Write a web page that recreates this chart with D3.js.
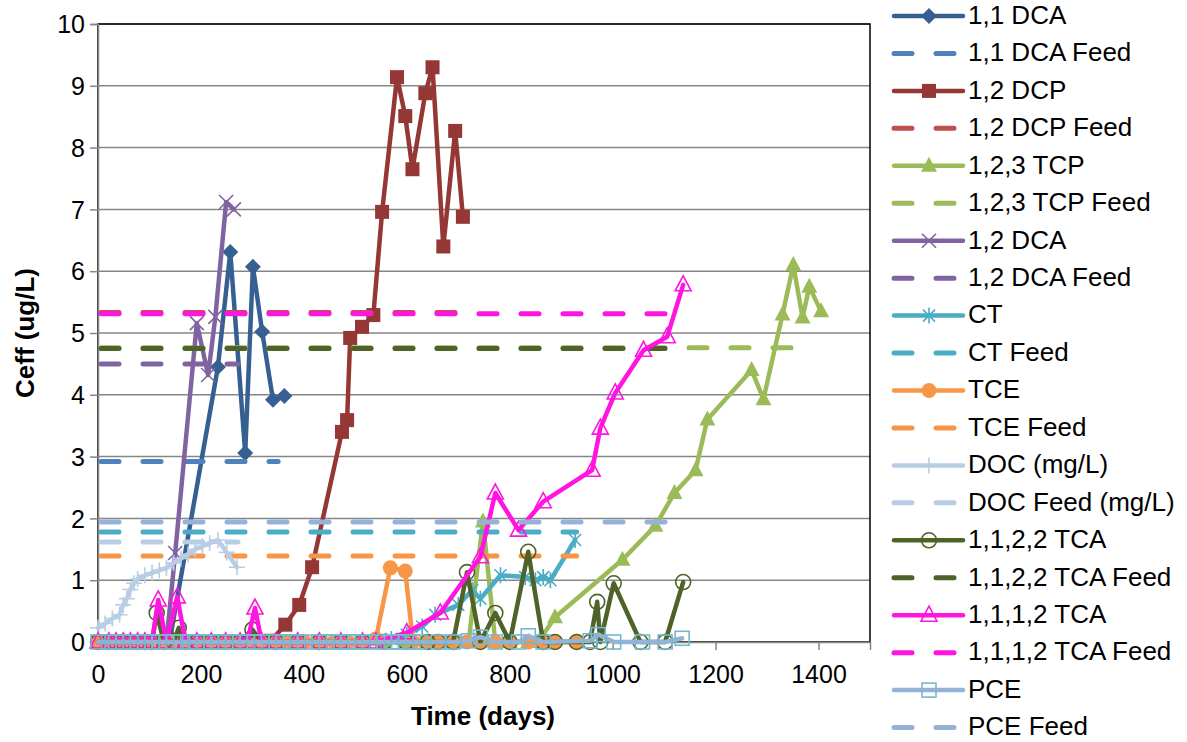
<!DOCTYPE html>
<html>
<head>
<meta charset="utf-8">
<script src="https://cdn.jsdelivr.net/npm/d3@7"></script>
<style>
  html, body { margin: 0; padding: 0; background: #fff; }
  svg { display: block; font-family: "Liberation Sans", Arial, sans-serif; }
</style>
</head>
<body>
<svg id="chart" width="1187" height="742"></svg>
<script>
// ---- Data (effluent concentration vs. time) ----
const xTicks = [0, 200, 400, 600, 800, 1000, 1200, 1400];
const yTicks = [0, 1, 2, 3, 4, 5, 6, 7, 8, 9, 10];

const dca11Days = [0, 21, 35, 49, 63, 77, 91, 105, 119, 140, 233, 257, 286, 301, 319, 340, 362];
const dca11Vals = [0, 0, 0, 0, 0, 0, 0, 0, 0, 0.05, 4.45, 6.31, 3.06, 6.07, 5.02, 3.92, 3.98];

const dcp12Days = [0, 21, 35, 49, 63, 77, 91, 105, 119, 133, 147, 161, 178, 206, 234, 262, 290, 318, 336, 364, 391, 416, 474, 484, 490, 513, 535, 552, 581, 597, 611, 636, 650, 671, 694, 709];
const dcp12Vals = [0, 0, 0, 0, 0, 0, 0, 0, 0, 0, 0, 0, 0, 0, 0, 0, 0, 0, 0.02, 0.28, 0.6, 1.21, 3.4, 3.59, 4.92, 5.1, 5.29, 6.96, 9.14, 8.51, 7.65, 8.88, 9.3, 6.4, 8.27, 6.88];

const tcp123Days = [0, 21, 49, 77, 105, 133, 161, 192, 220, 248, 276, 304, 346, 388, 430, 472, 514, 556, 598, 640, 690, 720, 748, 772, 800, 836, 862, 888, 1019, 1083, 1120, 1161, 1184, 1270, 1293, 1330, 1351, 1369, 1382, 1405];
const tcp123Vals = [0, 0, 0, 0, 0, 0, 0, 0, 0, 0, 0, 0, 0, 0, 0, 0, 0, 0, 0, 0, 0, 0, 1.95, 0, 0, 0, 0.08, 0.4, 1.33, 1.88, 2.41, 2.78, 3.6, 4.4, 3.93, 5.3, 6.1, 5.25, 5.75, 5.35];

const dca12Days = [0, 21, 35, 49, 63, 77, 91, 105, 119, 133, 150, 192, 214, 228, 249, 264];
const dca12Vals = [0, 0, 0, 0, 0, 0, 0, 0, 0, 0, 1.44, 5.16, 4.32, 5.26, 7.12, 7.0];

const ctDays = [0, 21, 49, 77, 105, 133, 161, 192, 220, 248, 276, 304, 346, 388, 430, 472, 514, 540, 570, 600, 630, 655, 700, 727, 743, 782, 830, 850, 865, 879, 927];
const ctVals = [0, 0, 0, 0, 0, 0, 0, 0, 0, 0, 0, 0, 0, 0, 0, 0, 0, 0.02, 0.05, 0.12, 0.25, 0.44, 0.6, 0.84, 0.7, 1.08, 1.05, 1.0, 1.05, 1.0, 1.65];

const tceDays = [0, 21, 35, 49, 63, 77, 91, 105, 119, 133, 147, 161, 178, 192, 206, 220, 234, 248, 262, 276, 290, 304, 318, 346, 360, 374, 388, 402, 430, 458, 486, 514, 540, 568, 597, 612, 640, 661, 690, 717, 743, 772, 800, 836, 865, 888, 930];
const tceVals = [0, 0, 0, 0, 0, 0, 0, 0, 0, 0, 0, 0, 0, 0, 0, 0, 0, 0, 0, 0, 0, 0, 0, 0, 0, 0, 0, 0, 0, 0, 0, 0, 0.05, 1.2, 1.15, 0, 0, 0, 0, 0, 0, 0, 0, 0, 0, 0, 0];

const docDays = [0, 14, 28, 42, 49, 56, 63, 70, 77, 91, 105, 119, 133, 147, 161, 175, 189, 203, 217, 233, 250, 270];
const docVals = [0.23, 0.3, 0.38, 0.44, 0.6, 0.7, 0.85, 0.95, 1.02, 1.08, 1.12, 1.16, 1.2, 1.28, 1.35, 1.42, 1.5, 1.55, 1.6, 1.65, 1.45, 1.21];

const tca1122Days = [0, 21, 35, 49, 63, 77, 91, 105, 114, 128, 147, 157, 170, 192, 220, 248, 276, 300, 318, 346, 388, 430, 472, 514, 556, 598, 640, 661, 690, 717, 743, 772, 800, 836, 865, 888, 930, 956, 970, 976, 1002, 1054, 1102, 1137];
const tca1122Vals = [0, 0, 0, 0, 0, 0, 0, 0, 0.47, 0, 0, 0.23, 0, 0, 0, 0, 0, 0.2, 0, 0, 0, 0, 0, 0, 0, 0, 0, 0, 0, 1.13, 0, 0.47, 0, 1.46, 0, 0, 0, 0, 0.65, 0, 0.95, 0, 0, 0.97];

const tca1112Days = [0, 21, 35, 49, 63, 77, 91, 105, 117, 133, 154, 170, 192, 220, 248, 276, 290, 305, 318, 346, 388, 430, 472, 514, 540, 600, 665, 743, 772, 817, 865, 960, 976, 1005, 1060, 1106, 1137];
const tca1112Vals = [0, 0, 0, 0, 0, 0, 0, 0, 0.68, 0, 0.73, 0, 0, 0, 0, 0, 0, 0.55, 0, 0, 0, 0, 0, 0, 0, 0.15, 0.47, 1.38, 2.41, 1.81, 2.27, 2.78, 3.46, 4.03, 4.72, 4.94, 5.78];

const pceDays = [0, 21, 35, 49, 63, 77, 91, 105, 119, 133, 147, 161, 178, 192, 206, 220, 234, 248, 262, 276, 290, 304, 318, 346, 360, 374, 388, 402, 430, 444, 458, 472, 486, 500, 514, 528, 556, 570, 584, 598, 612, 626, 661, 690, 720, 743, 772, 817, 836, 865, 956, 972, 1002, 1058, 1102, 1135];
const pceVals = [0, 0, 0, 0, 0, 0, 0, 0, 0, 0, 0, 0, 0, 0, 0, 0, 0, 0, 0, 0, 0, 0, 0, 0, 0, 0, 0, 0, 0, 0, 0, 0, 0, 0, 0, 0, 0, 0, 0, 0, 0, 0, 0, 0, 0.02, 0.08, 0, 0, 0.1, 0, 0.02, 0.12, 0, 0, 0, 0.06];

// Feed concentrations and the span of days each feed line covers
const feedLevels = [2.92, 5.33, 4.76, 4.5, 1.78, 1.39, 1.62, 4.75, 5.31, 1.94];
const feedEndDays = [350, 710, 1375, 272, 930, 930, 272, 1126, 1122, 1122];

const seriesNames = ["1,1 DCA", "1,2 DCP", "1,2,3 TCP", "1,2 DCA", "CT", "TCE", "DOC (mg/L)", "1,1,2,2 TCA", "1,1,1,2 TCA", "PCE"];
const feedNames = ["1,1 DCA Feed", "1,2 DCP Feed", "1,2,3 TCP Feed", "1,2 DCA Feed", "CT Feed", "TCE Feed", "DOC Feed (mg/L)", "1,1,2,2 TCA Feed", "1,1,1,2 TCA Feed", "PCE Feed"];

// ---- Styling ----
const lineColors = ["#376092", "#953735", "#9BBB59", "#8064A2", "#4BACC6", "#F79646", "#B9CDE5", "#4F6228", "#FF14E0", "#95B3D7"];
const feedColors = ["#4F81BD", "#C0504D", "#9BBB59", "#8064A2", "#4BACC6", "#F79646", "#B9CDE5", "#4F6228", "#FF14E0", "#95B3D7"];
const markerColors = ["#376092", "#953735", "#9BBB59", "#8064A2", "#4BACC6", "#F79646", "#B9CDE5", "#4F6228", "#FF14E0", "#77B8CE"];
const markerKinds = ["diamond", "square", "triangle", "cross", "star", "circle", "plus", "ring", "openTriangle", "openSquare"];

const seriesDays = [dca11Days, dcp12Days, tcp123Days, dca12Days, ctDays, tceDays, docDays, tca1122Days, tca1112Days, pceDays];
const seriesVals = [dca11Vals, dcp12Vals, tcp123Vals, dca12Vals, ctVals, tceVals, docVals, tca1122Vals, tca1112Vals, pceVals];

const svg = d3.select("#chart");
const plot = { left: 98, right: 870, top: 24, bottom: 642 };
const fontStack = "'Liberation Sans', Arial, sans-serif";

const x = d3.scaleLinear().domain([0, 1500]).range([plot.left, plot.right]);
const y = d3.scaleLinear().domain([0, 10]).range([plot.bottom, plot.top]);

// Gridlines
svg.append("g")
  .selectAll("line")
  .data(yTicks.filter(v => v > 0))
  .join("line")
  .attr("x1", plot.left).attr("x2", plot.right)
  .attr("y1", d => y(d)).attr("y2", d => y(d))
  .attr("stroke", "#868686").attr("stroke-width", 1.5);

// Plot area border
svg.append("rect")
  .attr("x", plot.left).attr("y", plot.top)
  .attr("width", plot.right - plot.left).attr("height", plot.bottom - plot.top)
  .attr("fill", "none").attr("stroke", "#000").attr("stroke-width", 1.5);

// Axes
const yAxis = svg.append("g")
  .attr("transform", `translate(${plot.left},0)`)
  .call(d3.axisLeft(y).tickValues(yTicks).tickSize(8).tickPadding(5).tickFormat(d3.format("d")));
const xAxis = svg.append("g")
  .attr("transform", `translate(0,${plot.bottom})`)
  .call(d3.axisBottom(x).tickValues(xTicks).tickSize(8).tickPadding(15).tickFormat(d3.format("d")));
[yAxis, xAxis].forEach(a => {
  a.select(".domain").attr("stroke", "#868686").attr("stroke-width", 1.5);
  a.selectAll(".tick line").attr("stroke", "#868686").attr("stroke-width", 1.5);
  a.selectAll(".tick text").attr("fill", "#000").style("font-size", "25px")
    .style("font-family", fontStack);
});
yAxis.selectAll(".tick text").attr("dy", "0.35em");

// Axis titles
svg.append("text")
  .attr("transform", `translate(34,333) rotate(-90)`)
  .attr("text-anchor", "middle")
  .style("font-size", "26px").style("font-weight", "bold")
  .text("Ceff (ug/L)");
svg.append("text")
  .attr("x", 483).attr("y", 725)
  .attr("text-anchor", "middle")
  .style("font-size", "26px").style("font-weight", "bold")
  .text("Time (days)");

// Marker drawing
function drawMarker(g, kind, color) {
  const sw = 1.6;
  switch (kind) {
    case "diamond":
      g.append("path").attr("d", "M0,-8L8,0L0,8L-8,0Z").attr("fill", color); break;
    case "square":
      g.append("rect").attr("x", -7).attr("y", -7).attr("width", 14).attr("height", 14).attr("fill", color); break;
    case "openSquare":
      g.append("rect").attr("x", -7).attr("y", -7).attr("width", 14).attr("height", 14)
        .attr("fill", "none").attr("stroke", color).attr("stroke-width", sw); break;
    case "triangle":
      g.append("path").attr("d", "M0,-9L8,6L-8,6Z").attr("fill", color); break;
    case "openTriangle":
      g.append("path").attr("d", "M0,-9L8,6L-8,6Z").attr("fill", "none").attr("stroke", color).attr("stroke-width", sw); break;
    case "cross":
      g.append("path").attr("d", "M-7,-7L7,7M-7,7L7,-7").attr("stroke", color).attr("stroke-width", sw); break;
    case "star":
      g.append("path").attr("d", "M-6,-6L6,6M-6,6L6,-6M0,-8L0,8").attr("stroke", color).attr("stroke-width", sw); break;
    case "plus":
      g.append("path").attr("d", "M-8,0L8,0M0,-8L0,8").attr("stroke", color).attr("stroke-width", sw); break;
    case "circle":
      g.append("circle").attr("r", 7.5).attr("fill", color); break;
    case "ring":
      g.append("circle").attr("r", 7.5).attr("fill", "none").attr("stroke", color).attr("stroke-width", sw); break;
  }
}

const line = d3.line().x(d => x(d[0])).y(d => y(d[1]));
const plotLayer = svg.append("g");

seriesNames.forEach((name, i) => {
  const pts = seriesDays[i].map((d, k) => [d, seriesVals[i][k]]);
  const g = plotLayer.append("g");
  g.append("path")
    .attr("d", line(pts))
    .attr("fill", "none")
    .attr("stroke", lineColors[i])
    .attr("stroke-width", 4.5)
    .attr("stroke-linejoin", "round")
    .attr("stroke-linecap", "round");
  pts.forEach(p => {
    const m = g.append("g").attr("transform", `translate(${x(p[0])},${y(p[1])})`);
    drawMarker(m, markerKinds[i], markerColors[i]);
  });
  // Feed concentration line
  plotLayer.append("line")
    .attr("x1", x(0) + 3).attr("x2", x(feedEndDays[i]))
    .attr("y1", y(feedLevels[i])).attr("y2", y(feedLevels[i]))
    .attr("stroke", feedColors[i])
    .attr("stroke-width", 5)
    .attr("stroke-linecap", "round")
    .attr("stroke-dasharray", "18,24");
});

// Legend
const legend = svg.append("g");
const legendTop = 16, legendStep = 37.45;
seriesNames.forEach((name, i) => {
  const ys = legendTop + legendStep * (2 * i);
  const yf = legendTop + legendStep * (2 * i + 1);
  legend.append("line")
    .attr("x1", 894).attr("x2", 963).attr("y1", ys).attr("y2", ys)
    .attr("stroke", lineColors[i]).attr("stroke-width", 4.5).attr("stroke-linecap", "round");
  drawMarker(legend.append("g").attr("transform", `translate(929,${ys})`), markerKinds[i], markerColors[i]);
  legend.append("text").attr("x", 968).attr("y", ys).attr("dy", "0.3em")
    .style("font-size", "26px").text(name);
  legend.append("line")
    .attr("x1", 894).attr("x2", 963).attr("y1", yf).attr("y2", yf)
    .attr("stroke", feedColors[i]).attr("stroke-width", 5).attr("stroke-linecap", "round")
    .attr("stroke-dasharray", "18,24");
  legend.append("text").attr("x", 968).attr("y", yf).attr("dy", "0.3em")
    .style("font-size", "26px").text(feedNames[i]);
});
</script>
</body>
</html>
